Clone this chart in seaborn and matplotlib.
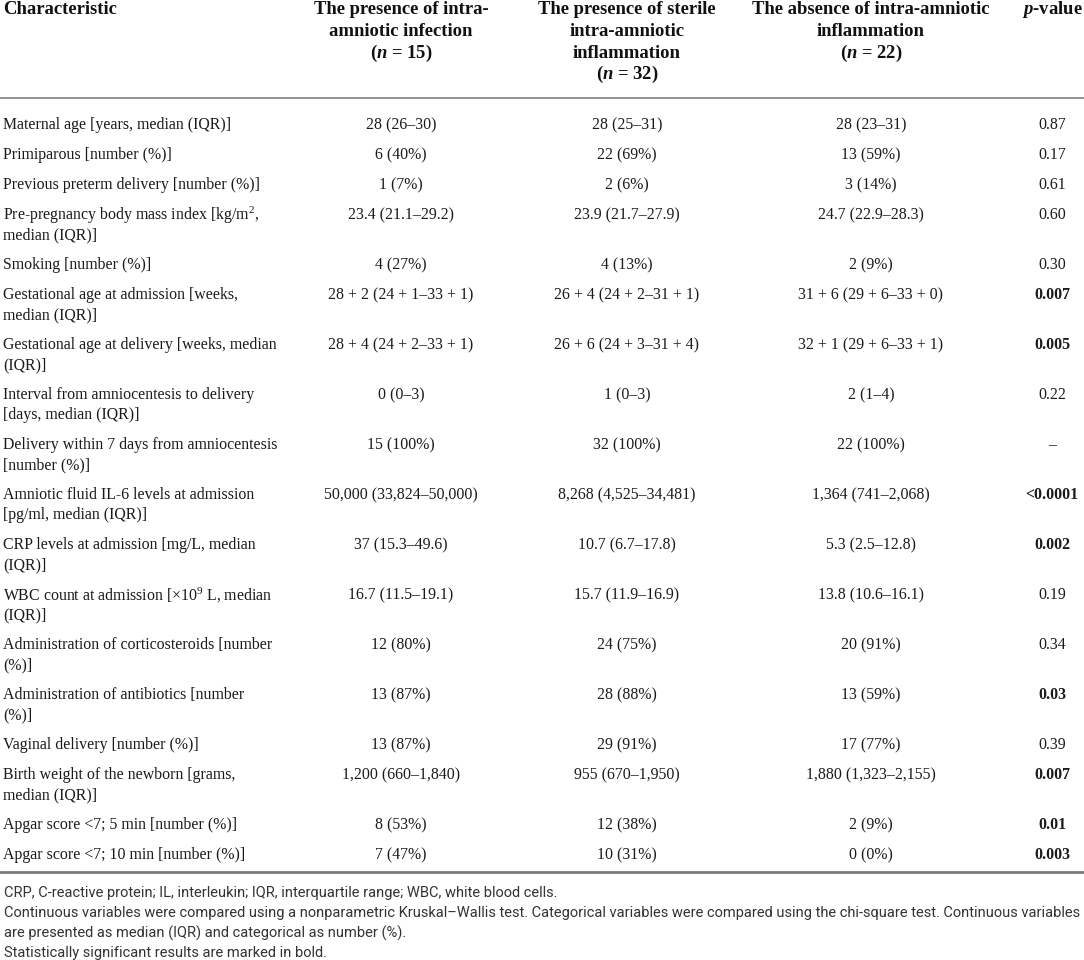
import matplotlib
matplotlib.use("Agg")
import matplotlib.pyplot as plt
import seaborn as sns

# table content
header = ["Characteristic",
          "The presence of intra-\namniotic infection\n($n$ = 15)",
          "The presence of sterile\nintra-amniotic\ninflammation\n($n$ = 32)",
          "The absence of intra-amniotic\ninflammation\n($n$ = 22)",
          "$p$-value"]

characteristics = [
    "Maternal age [years, median (IQR)]",
    "Primiparous [number (%)]",
    "Previous preterm delivery [number (%)]",
    "Pre-pregnancy body mass index [kg/m$^2$,\nmedian (IQR)]",
    "Smoking [number (%)]",
    "Gestational age at admission [weeks,\nmedian (IQR)]",
    "Gestational age at delivery [weeks, median\n(IQR)]",
    "Interval from amniocentesis to delivery\n[days, median (IQR)]",
    "Delivery within 7 days from amniocentesis\n[number (%)]",
    "Amniotic fluid IL-6 levels at admission\n[pg/ml, median (IQR)]",
    "CRP levels at admission [mg/L, median\n(IQR)]",
    "WBC count at admission [\u00d710$^9$ L, median\n(IQR)]",
    "Administration of corticosteroids [number\n(%)]",
    "Administration of antibiotics [number\n(%)]",
    "Vaginal delivery [number (%)]",
    "Birth weight of the newborn [grams,\nmedian (IQR)]",
    "Apgar score <7; 5 min [number (%)]",
    "Apgar score <7; 10 min [number (%)]",
]

infection = ["28 (26\u201330)", "6 (40%)", "1 (7%)", "23.4 (21.1\u201329.2)", "4 (27%)",
             "28 + 2 (24 + 1\u201333 + 1)", "28 + 4 (24 + 2\u201333 + 1)", "0 (0\u20133)",
             "15 (100%)", "50,000 (33,824\u201350,000)", "37 (15.3\u201349.6)",
             "16.7 (11.5\u201319.1)", "12 (80%)", "13 (87%)", "13 (87%)",
             "1,200 (660\u20131,840)", "8 (53%)", "7 (47%)"]

sterile = ["28 (25\u201331)", "22 (69%)", "2 (6%)", "23.9 (21.7\u201327.9)", "4 (13%)",
           "26 + 4 (24 + 2\u201331 + 1)", "26 + 6 (24 + 3\u201331 + 4)", "1 (0\u20133)",
           "32 (100%)", "8,268 (4,525\u201334,481)", "10.7 (6.7\u201317.8)",
           "15.7 (11.9\u201316.9)", "24 (75%)", "28 (88%)", "29 (91%)",
           "955 (670\u20131,950)", "12 (38%)", "10 (31%)"]

absence = ["28 (23\u201331)", "13 (59%)", "3 (14%)", "24.7 (22.9\u201328.3)", "2 (9%)",
           "31 + 6 (29 + 6\u201333 + 0)", "32 + 1 (29 + 6\u201333 + 1)", "2 (1\u20134)",
           "22 (100%)", "1,364 (741\u20132,068)", "5.3 (2.5\u201312.8)",
           "13.8 (10.6\u201316.1)", "20 (91%)", "13 (59%)", "17 (77%)",
           "1,880 (1,323\u20132,155)", "2 (9%)", "0 (0%)"]

p_values = ["0.87", "0.17", "0.61", "0.60", "0.30", "0.007", "0.005", "0.22", "\u2013",
            "<0.0001", "0.002", "0.19", "0.34", "0.03", "0.39", "0.007", "0.01", "0.003"]
significant = [False, False, False, False, False, True, True, False, False,
               True, True, False, False, True, False, True, True, True]

footnotes = [
    "CRP, C-reactive protein; IL, interleukin; IQR, interquartile range; WBC, white blood cells.",
    "Continuous variables were compared using a nonparametric Kruskal\u2013Wallis test. Categorical variables were compared using the chi-square test. Continuous variables",
    "are presented as median (IQR) and categorical as number (%).",
    "Statistically significant results are marked in bold.",
]

sns.set_theme(style="white")
plt.rcParams['font.family'] = ['Liberation Serif', 'DejaVu Serif']
plt.rcParams['mathtext.fontset'] = 'custom'
plt.rcParams['mathtext.rm'] = 'Liberation Serif'
plt.rcParams['mathtext.it'] = 'Liberation Serif:italic:bold'

W, H = 1084, 960
fig = plt.figure(figsize=(W / 100, H / 100), dpi=100)
ax = fig.add_axes([0, 0, 1, 1])
ax.set_xlim(0, W)
ax.set_ylim(H, 0)
ax.axis('off')

col_x = [3, 401, 627, 871, 1052]
col_ha = ['left', 'center', 'center', 'center', 'center']
body_fs = 11.4
head_fs = 13.4
line_h = 20
row_gap = 10

# header
for j, h in enumerate(header):
    for i, part in enumerate(h.split('\n')):
        ax.text(col_x[j], 10 + i * 21.5, part, ha=col_ha[j], va='center',
                fontsize=head_fs, fontweight='bold', color='#111111')

ax.axhline(98, color='#8a8a8a', lw=1.3)

# body rows
y = 125
columns = [characteristics, infection, sterile, absence, p_values]
for r in range(len(characteristics)):
    n_lines = characteristics[r].count('\n') + 1
    for j, col in enumerate(columns):
        weight = 'bold' if (j == 4 and significant[r]) else 'normal'
        for i, part in enumerate(col[r].split('\n')):
            ax.text(col_x[j], y + i * line_h, part, ha=col_ha[j], va='center',
                    fontsize=body_fs, fontweight=weight, color='#1a1a1a')
    y += n_lines * line_h + row_gap

bottom = y - line_h - row_gap + 17
ax.axhline(bottom, color='#7a7a7a', lw=2.0)

# footnotes: fit the longest line to the table width
foot_family = ['Roboto', 'DejaVu Sans']
probe = ax.text(0, 0, footnotes[1], fontsize=10, family=foot_family)
fig.canvas.draw()
w = probe.get_window_extent().width
probe.remove()
foot_fs = 10 * 1074 / w

for i, note in enumerate(footnotes):
    ax.text(4, bottom + 21 + i * 20, note, ha='left', va='center', fontsize=foot_fs,
            family=foot_family, color='#333333')

fig.savefig('out.png', dpi=100)
